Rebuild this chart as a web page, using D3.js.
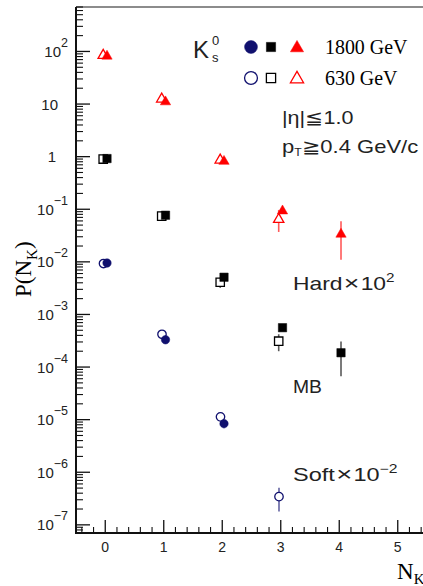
<!DOCTYPE html>
<html><head><meta charset="utf-8">
<script src="https://cdn.jsdelivr.net/npm/d3@7"></script>
<style>html,body{margin:0;padding:0;background:#fff;overflow:hidden}</style>
</head><body>
<svg id="c" width="423" height="586"></svg>
<script>
// ---- data ----
const nk = [0, 1, 2, 3, 4];
// Hard events (displayed x 10^2)
const hard1800 = [0.85, 0.115, 0.0085, 0.00097, 0.00035];
const hard1800Err = [0, 0, 0, 0.0001, 0.00024];
const hard630 = [0.88, 0.13, 0.009, 0.00067, null];
const hard630Err = [0, 0, 0, 0.0003, 0];
// Minimum bias (x 1)
const mb1800 = [0.92, 0.077, 0.0051, 0.00056, 0.000187];
const mb1800Err = [0, 0.012, 0, 0, 0.00012];
const mb630 = [0.90, 0.074, 0.0041, 0.00031, null];
const mb630Err = [0, 0, 0.0009, 0.00011, 0];
// Soft events (displayed x 10^-2)
const soft1800 = [0.95, 0.033, 0.00084, null, null];
const soft1800Err = [0, 0, 0.00015, 0, 0];
const soft630 = [0.93, 0.042, 0.00113, 0.0000344, null];
const soft630Err = [0, 0, 0, 0.0000165, 0];
const xTicks = [0, 1, 2, 3, 4, 5];
const yExponents = [-7, -6, -5, -4, -3, -2, -1, 0, 1, 2];

const RED = "#ff0000", BLK = "#000000", NAVY = "#10106e";
const sans = "Liberation Sans, Arial, sans-serif";
const serif = "Liberation Serif, Times New Roman, serif";

const svg = d3.select("#c");
const x = d3.scaleLinear().domain([-0.5, 5.5]).range([76, 427]);
const y = d3.scaleLog().domain([7e-8, 700]).range([533, 7]);

// stretch a text horizontally to a target width
function fit(sel, px, py, w) {
  const bw = sel.node().getBBox().width;
  sel.attr("transform", `translate(${px},${py}) scale(${(w / bw).toFixed(3)},1)`);
}

// frame
svg.append("line").attr("x1", 76).attr("x2", 430).attr("y1", 7).attr("y2", 7)
  .attr("stroke", "#666").attr("stroke-width", 1.5);

// y ticks
const gy = svg.append("g");
const yMinor = [];
for (let k = -8; k <= 2; k++) for (let m = 2; m <= 9; m++) {
  const v = m * Math.pow(10, k);
  if (v >= 7e-8 && v <= 700) yMinor.push(v);
}
gy.selectAll(".mn").data(yMinor).join("line")
  .attr("x1", 76).attr("x2", 83).attr("y1", d => y(d)).attr("y2", d => y(d))
  .attr("stroke", "#111").attr("stroke-width", 1.1);
gy.selectAll(".mj").data(yExponents).join("line")
  .attr("x1", 76).attr("x2", 90).attr("y1", d => y(Math.pow(10, d))).attr("y2", d => y(Math.pow(10, d)))
  .attr("stroke", "#111").attr("stroke-width", 1.3);
const ylab = gy.selectAll(".yl").data(yExponents).join("text")
  .attr("font-family", sans).attr("font-size", 15).attr("fill", "#222")
  .attr("y", d => y(Math.pow(10, d)) + 5.5)
  .attr("x", d => d === 1 ? 58 : d === 0 ? 56 : 68)
  .attr("text-anchor", "end");
ylab.each(function (d) {
  const t = d3.select(this);
  if (d === 1) t.text("10");
  else if (d === 0) t.text("1");
  else {
    t.append("tspan").text("10");
    t.append("tspan").attr("dy", -10).attr("font-size", 12.5).text(d < 0 ? "\u2212" + (-d) : d);
  }
});

// x ticks
const xMinor = d3.range(-0.4, 5.5, 0.2).filter(v => Math.abs(v - Math.round(v)) > 0.05);
svg.selectAll(".xmn").data(xMinor).join("line")
  .attr("x1", d => x(d)).attr("x2", d => x(d)).attr("y1", 533).attr("y2", 527)
  .attr("stroke", "#111").attr("stroke-width", 1.1);
svg.selectAll(".xmj").data(xTicks).join("line")
  .attr("x1", d => x(d)).attr("x2", d => x(d)).attr("y1", 533).attr("y2", 520)
  .attr("stroke", "#111").attr("stroke-width", 1.3);
svg.selectAll(".xl").data(xTicks).join("text")
  .attr("x", d => x(d)).attr("y", 552).attr("text-anchor", "middle")
  .attr("font-family", sans).attr("font-size", 14).attr("fill", "#222")
  .text(d => d);

// axes lines
svg.append("line").attr("x1", 76).attr("x2", 76).attr("y1", 7).attr("y2", 534)
  .attr("stroke", "#111").attr("stroke-width", 2);
svg.append("line").attr("x1", 75).attr("x2", 430).attr("y1", 533).attr("y2", 533)
  .attr("stroke", "#111").attr("stroke-width", 2);

// axis titles
const yt = svg.append("text").attr("transform", "translate(31,297) rotate(-90)")
  .attr("font-family", serif).attr("font-size", 23).attr("fill", "#000");
yt.append("tspan").text("P(N");
yt.append("tspan").attr("dy", 6).attr("font-size", 15).text("K");
yt.append("tspan").attr("dy", -6).text(")");
const xt = svg.append("text").attr("x", 397).attr("y", 579)
  .attr("font-family", serif).attr("font-size", 23).attr("fill", "#000");
xt.append("tspan").text("N");
xt.append("tspan").attr("dy", 5).attr("font-size", 15).text("K");

// ---- data marks ----
const series = [
  { v: hard630, e: hard630Err, s: 1e2, shape: d3.symbolTriangle, c: RED, open: true, dx: -0.035, size: 46 },
  { v: mb630, e: mb630Err, s: 1, shape: d3.symbolSquare, c: BLK, open: true, dx: -0.035, size: 70 },
  { v: soft630, e: soft630Err, s: 1e-2, shape: d3.symbolCircle, c: NAVY, open: true, dx: -0.03, size: 56 },
  { v: hard1800, e: hard1800Err, s: 1e2, shape: d3.symbolTriangle, c: RED, open: false, dx: 0.03, size: 46 },
  { v: mb1800, e: mb1800Err, s: 1, shape: d3.symbolSquare, c: BLK, open: false, dx: 0.03, size: 70 },
  { v: soft1800, e: soft1800Err, s: 1e-2, shape: d3.symbolCircle, c: NAVY, open: false, dx: 0.03, size: 56 }
];
series.forEach(sr => {
  const pts = nk.map((n, i) => ({ n, v: sr.v[i], e: sr.e[i] })).filter(p => p.v != null);
  const g = svg.append("g");
  g.selectAll("line").data(pts.filter(p => p.e > 0)).join("line")
    .attr("x1", p => x(p.n + sr.dx)).attr("x2", p => x(p.n + sr.dx))
    .attr("y1", p => y((p.v + p.e) * sr.s)).attr("y2", p => y((p.v - p.e) * sr.s))
    .attr("stroke", sr.c).attr("stroke-opacity", 0.65).attr("stroke-width", 1.6);
  g.selectAll("path").data(pts).join("path")
    .attr("d", d3.symbol().type(sr.shape).size(sr.size))
    .attr("transform", p => `translate(${x(p.n + sr.dx)},${y(p.v * sr.s) + (sr.shape === d3.symbolTriangle ? 1 : 0)})`)
    .attr("fill", sr.open ? "#fff" : sr.c)
    .attr("stroke", sr.c).attr("stroke-width", sr.open ? 1.3 : 0.5);
});

// ---- legend ----
svg.append("text").attr("x", 193).attr("y", 58)
  .attr("font-family", sans).attr("font-size", 24).attr("fill", "#222").text("K");
svg.append("text").attr("x", 212).attr("y", 45).attr("font-family", sans)
  .attr("font-size", 13).attr("fill", "#222").text("0");
svg.append("text").attr("x", 212).attr("y", 62).attr("font-family", sans)
  .attr("font-size", 13).attr("fill", "#222").text("s");

const legShapes = [
  { shape: d3.symbolCircle, c: NAVY, x: 251, size: 130 },
  { shape: d3.symbolSquare, c: BLK, x: 271, size: 85 },
  { shape: d3.symbolTriangle, c: RED, x: 297, size: 75 }
];
const legRows = [{ label: "1800 GeV", y: 47, open: false, w: 83 }, { label: "630 GeV", y: 78, open: true, w: 73 }];
legRows.forEach(r => {
  legShapes.forEach(s => {
    svg.append("path").attr("d", d3.symbol().type(s.shape).size(s.size)())
      .attr("transform", `translate(${s.x},${r.y + (s.shape === d3.symbolTriangle ? 1 : 0)})`)
      .attr("fill", r.open ? "none" : s.c).attr("stroke", s.c).attr("stroke-width", r.open ? 1.3 : 0.5);
  });
  const t = svg.append("text")
    .attr("font-family", serif).attr("font-size", 20).attr("fill", "#000")
    .text(r.label);
  fit(t, 325, r.y + 7, r.w);
});

// ---- annotations ----
const eta = svg.append("text").attr("font-family", sans).attr("font-size", 18).attr("fill", "#222")
  .text("|\u03b7|\u22661.0");
fit(eta, 282, 124, 71);
const pt = svg.append("text").attr("font-family", sans).attr("font-size", 18).attr("fill", "#222");
pt.append("tspan").text("p");
pt.append("tspan").attr("dy", 3).attr("font-size", 10).text("T");
pt.append("tspan").attr("dy", -3).text("\u22670.4 GeV/c");
fit(pt, 282, 153, 136);

const hd = svg.append("text").attr("font-family", sans).attr("font-size", 18).attr("fill", "#222");
hd.append("tspan").text("Hard");
hd.append("tspan").attr("font-size", 21).attr("dx", 1).text("\u00d7");
hd.append("tspan").attr("dx", 1).text("10");
hd.append("tspan").attr("dy", -8).attr("font-size", 12).text("2");
fit(hd, 293, 290, 102);
const mbt = svg.append("text").attr("font-family", sans).attr("font-size", 18).attr("fill", "#222").text("MB");
fit(mbt, 293, 393, 29);
const sf = svg.append("text").attr("font-family", sans).attr("font-size", 18).attr("fill", "#222");
sf.append("tspan").text("Soft");
sf.append("tspan").attr("font-size", 21).attr("dx", 1).text("\u00d7");
sf.append("tspan").attr("dx", 1).text("10");
sf.append("tspan").attr("dy", -8).attr("font-size", 12).text("\u22122");
fit(sf, 293, 481, 105);
</script>
</body></html>
